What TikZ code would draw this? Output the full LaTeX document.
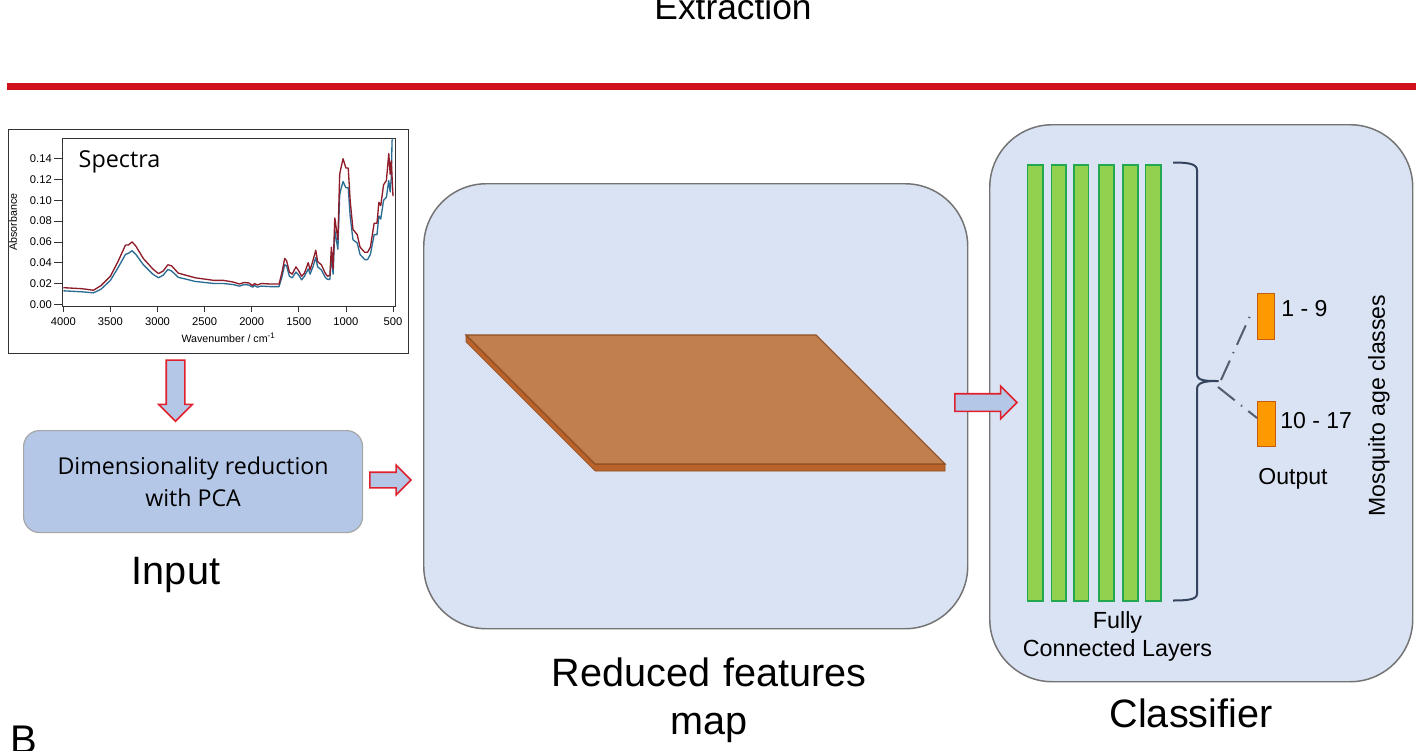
\documentclass[tikz,border=0pt]{standalone}
\usepackage{fontspec}
\setmainfont{Liberation Sans}
\newfontfamily\boxfont{Open Sans}
\usetikzlibrary{shapes.arrows}

\definecolor{panelblue}{HTML}{DAE3F3}
\definecolor{boxblue}{HTML}{B4C7E7}
\definecolor{rulered}{HTML}{D0101A}
\definecolor{arrowred}{HTML}{E0202C}
\definecolor{layergreen}{HTML}{92D050}
\definecolor{layeredge}{HTML}{22A84E}
\definecolor{slabtop}{HTML}{C17F4F}
\definecolor{slabside}{HTML}{B9632B}
\definecolor{slabedge}{HTML}{8F4E1F}
\definecolor{outorange}{HTML}{FF9900}
\definecolor{outedge}{HTML}{C55A11}
\definecolor{bracenavy}{HTML}{34435E}
\definecolor{curvered}{HTML}{8E1C2A}
\definecolor{curveblue}{HTML}{2A6D94}
\definecolor{dashgrey}{HTML}{555C6B}

\tikzset{
  pxbox/.style 2 args={inner sep=0pt, minimum width=#1*0.75pt, minimum height=#2*0.75pt},
  panelbox/.style={draw=black!55, line width=1.1pt, fill=panelblue, rounded corners=47pt},
  inputbox/.style={draw=black!35, line width=0.9pt, fill=boxblue, rounded corners=12pt, align=center, font=\boxfont\fontsize{17.4}{24}\selectfont},
  blockarrow/.style 2 args={shape=single arrow, draw=arrowred, line width=1.2pt, fill=boxblue, inner xsep=0pt, inner ysep=#1*0.375pt, single arrow head indent=0pt, single arrow head extend=#2*0.75pt},
  layerbox/.style={draw=layeredge, line width=1.2pt, fill=layergreen, anchor=north west},
  outbox/.style={draw=outedge, line width=0.9pt, fill=outorange, anchor=north west},
  smalltxt/.style={font=\fontsize{17.3}{21}\selectfont, align=center},
  bigtxt/.style={font=\fontsize{29.7}{36}\selectfont, align=center},
  ticktxt/.style={font=\fontsize{8.4}{10}\selectfont, inner sep=0pt},
  datacurve/.style={line width=1pt, line join=round},
  dashline/.style={dashgrey, line width=1.5pt, dash pattern=on 16pt off 6pt on 1pt off 6pt}
}

\begin{document}
\begin{tikzpicture}[x=0.75pt, y=-0.75pt]
\useasboundingbox[clip] (0,0) rectangle (1416,750);

% top caption and rule
\node[font=\fontsize{26.5}{32}\selectfont] (extraction) at (733,7) {Extraction};
\fill[rulered] (7,82.5) rectangle (1416,89.5);

% spectra inset
\node[draw=black!80, line width=0.7pt, fill=white, anchor=north west, pxbox={400}{224}] (inset) at (7.5,129) {};
\node[draw=black!80, line width=0.7pt, anchor=north west, pxbox={333}{167.5}] (frame) at (62,138) {};
\foreach \v/\lab in {0/0.00, 20/0.02, 40/0.04, 60/0.06, 80/0.08, 100/0.10, 120/0.12, 140/0.14}{
    \pgfmathsetmacro{\ty}{304.3-1.04*\v}
    \draw[black!80, line width=0.5pt] (54,\ty) -- (62,\ty);
    \node[ticktxt, anchor=east] (ylab\v) at (52,\ty) {\lab};
}
\foreach \w in {500,1000,...,4000}{
    \pgfmathsetmacro{\tx}{393-(\w-500)*0.0942}
    \draw[black!80, line width=0.5pt] (\tx,305.5) -- (\tx,311.5);
    \node[ticktxt] (xlab\w) at (\tx,322) {\w};
}
\node[ticktxt, rotate=90, font=\fontsize{8}{10}\selectfont] (ylabel) at (13,222) {Absorbance};
\node[ticktxt, font=\fontsize{8}{10}\selectfont] (xlabel) at (228.5,338) {Wavenumber / cm\textsuperscript{-1}};

\begin{scope}[shift={(440.1,304.3)}, x=-0.07065pt, y=0.78pt]
\draw[datacurve, curveblue] plot coordinates {
(4000,13) (3800,12) (3680,11) (3600,14.5) (3500,23) (3420,35) (3340,48) (3310,49)
(3270,51.5) (3230,48) (3150,38) (3050,29) (2990,25.5) (2940,28) (2890,33.5) (2850,32)
(2780,26) (2600,22) (2400,20) (2300,20) (2200,19) (2130,17.5) (2080,19) (2030,18.5)
(1990,16.5) (1970,18) (1940,16.5) (1900,17.5) (1800,17) (1710,17) (1680,26) (1650,38)
(1630,37) (1600,27) (1570,25.5) (1530,31) (1500,28) (1470,23.5) (1440,27) (1400,34)
(1380,29) (1350,36) (1320,45) (1300,36) (1260,33) (1220,26) (1195,24) (1170,24)
(1154,47) (1136,29) (1118,71) (1085,53) (1066,105) (1055,110) (1030,118)
(1000,112) (975,112) (955,85) (925,62) (880,59) (850,48) (800,43) (770,43)
(740,48) (700,67) (670,67) (650,85) (630,82) (600,100) (570,103) (545,119)
(530,108) (518,122) (510,158) (500,158)};
\draw[datacurve, curvered] plot coordinates {
(4000,16) (3800,15) (3680,13.5) (3600,18) (3500,27) (3420,41) (3340,57) (3310,57)
(3270,60) (3230,56) (3150,44) (3050,34) (2990,29.5) (2940,32) (2890,38) (2850,37)
(2780,30) (2600,25.5) (2400,23) (2300,23) (2200,21.5) (2130,19.5) (2080,21) (2030,20.5)
(1990,18) (1970,20) (1940,18.5) (1900,20) (1800,19.5) (1710,19.5) (1680,30) (1650,44)
(1630,42) (1600,31) (1570,29) (1530,36) (1500,32) (1470,27) (1440,30) (1400,40)
(1380,33) (1350,42) (1320,52) (1300,41) (1260,38) (1220,30) (1195,27) (1170,28)
(1154,55) (1136,34) (1118,83) (1085,62) (1066,125) (1055,130) (1030,140)
(1000,131) (975,131) (955,100) (925,72) (880,67) (850,55) (800,50) (770,50)
(740,55) (700,78) (670,78) (650,98) (630,95) (600,115) (570,119) (545,145)
(530,125) (518,138) (500,104)};
\end{scope}
\node[font=\boxfont\fontsize{17.5}{20}\selectfont] (spectra) at (119.5,162) {Spectra};

% input side
\node[pxbox={32}{61}, blockarrow={17}{7.5}, rotate=-90] (downarrow) at (175.5,386) {};
\node[inputbox, anchor=north west, pxbox={339}{102}] (pca) at (23,430) {Dimensionality reduction\\with PCA};
\node[bigtxt] (input) at (176,575) {Input};
\node[pxbox={28}{41}, blockarrow={14}{7}] (pcaarrow) at (386.5,480) {};

% reduced features panel
\node[panelbox, anchor=north west, pxbox={544}{445}] (featpanel) at (423,183) {};
\fill[slabside, draw=slabedge, line width=0.5pt] (466,335) -- (466,342) -- (595,471) -- (945,471) -- (945,464) -- (595,464) -- cycle;
\fill[slabtop, draw=slabedge, line width=0.8pt] (466,335) -- (816,335) -- (945,464) -- (595,464) -- cycle;
\node[bigtxt, text width=400pt] (feattxt) at (709,700) {Reduced features\\map};

% classifier panel
\node[panelbox, anchor=north west, pxbox={423}{557}] (clspanel) at (989,124) {};
\foreach \i/\x/\w in {1/1026.7/15.3, 2/1050.7/14.6, 3/1073.3/14.4, 4/1098/15.3, 5/1122.3/14.7, 6/1144.7/15.3}{
    \node[layerbox, pxbox={\w}{436}] (layer\i) at (\x,164) {};
}
\node[pxbox={31}{62}, blockarrow={16}{7.5}] (clsarrow) at (981.5,402.5) {};
\draw[bracenavy, line width=1.5pt, line join=round] (1173,162.5) .. controls (1185,162.5) and (1197,163) .. (1197,170)
  -- (1197,374) .. controls (1197,381) and (1206,381) .. (1218,381)
  .. controls (1206,381) and (1197,382) .. (1197,389)
  -- (1197,594) .. controls (1197,600) and (1185,600.5) .. (1173,600.5);
\coordinate (bracetipa) at (1221,380);
\coordinate (bracetipb) at (1218,387);
\node[smalltxt, font=\fontsize{17.5}{21}\selectfont] (layertxt) at (1117.5,636) {Fully\\Connected Layers};

% outputs
\node[outbox, pxbox={17.3}{46}] (outa) at (1256.7,293) {};
\node[outbox, pxbox={18}{45.3}] (outb) at (1257,400.7) {};
\coordinate (outaend) at (1250,316);
\coordinate (outbend) at (1257,418);
\draw[dashline] (bracetipa) -- (outaend);
\draw[dashline] (bracetipb) -- (outbend);
\node[smalltxt, anchor=west, inner sep=0pt] (outatxt) at (1281,309) {1 - 9};
\node[smalltxt, anchor=west, inner sep=0pt] (outbtxt) at (1280,421) {10 - 17};
\node[smalltxt] (outtxt) at (1293,479) {Output};
\node[smalltxt, rotate=90] (agetxt) at (1379,405.5) {Mosquito age classes};
\node[bigtxt] (clstxt) at (1191,713) {Classifier};

\node[font=\fontsize{30}{36}\selectfont, anchor=west, inner sep=0pt] (panelb) at (10,740) {B};
\end{tikzpicture}
\end{document}
